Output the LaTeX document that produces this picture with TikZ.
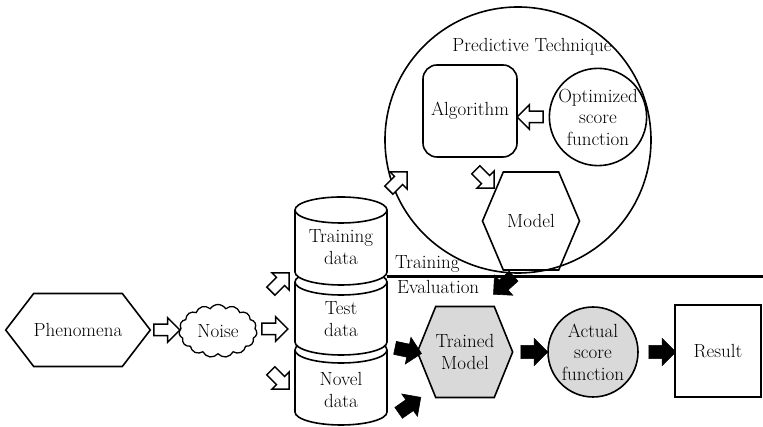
\documentclass[tikz,border=0pt]{standalone}
\usetikzlibrary{shapes.geometric,shapes.symbols,shapes.arrows}
\begin{document}
\begin{tikzpicture}[x=1pt,y=1pt,
  every node/.style={font=\fontsize{19}{21.5}\selectfont, align=center},
  outl/.style={draw, line width=1.6pt},
  openarr/.style={single arrow, draw, line width=1.5pt, fill=white, minimum height=26pt, inner xsep=0pt, inner ysep=5pt, single arrow head extend=6.5pt},
  blackarr/.style={single arrow, draw, fill=black, line width=0.6pt, minimum height=27pt, inner xsep=0pt, inner ysep=6.3pt, single arrow head extend=7pt},
  hexa/.style={signal, signal to=east and west, draw, line width=1.6pt, inner sep=0pt},
  lbl/.style={inner sep=0pt, anchor=base west},
]
\useasboundingbox (0,0) rectangle (763,427);

% big circle
\node[circle, outl, minimum size=266pt, inner sep=0pt] (pt) at (518,287) {};
\node (ptlabel) at (532,380) {Predictive Technique};
\node[rectangle, rounded corners=14pt, outl, minimum width=94pt, minimum height=92pt] (alg) at (470,316) {Algorithm};
\node[circle, outl, minimum size=95pt, inner sep=0pt] (opt) at (598,310) {Optimized\\score\\function};
\node[hexa, signal pointer angle=134, minimum width=97pt, minimum height=98pt] (model) at (531,206) {Model};

% cylinders
\newcommand{\cylbody}[2]{%
  \filldraw[fill=white, line width=1.6pt] (295,#1) -- (295,#2)
     arc[start angle=180,end angle=360,x radius=46,y radius=13] -- (387,#1)
     arc[start angle=0,end angle=180,x radius=46,y radius=13] -- cycle;
  \draw[line width=1.6pt] (295,#1) arc[start angle=180,end angle=360,x radius=46,y radius=13];}
\cylbody{77}{15}
\cylbody{145}{85}
\cylbody{217}{155}
\node (train) at (341,180) {Training\\data};
\node (test) at (341,108) {Test\\data};
\node (novel) at (341,37) {Novel\\data};

% training / evaluation line
\coordinate (trE) at (387,150);
\coordinate (lineend) at (763,150);
\draw[line width=3pt] (trE) -- (lineend);
\node[lbl] (ltrain) at (395,158) {Training};
\node[lbl] (leval) at (397,133) {Evaluation};

% left part
\node[hexa, signal pointer angle=105, minimum width=141pt, minimum height=73pt] (phen) at (78,97) {Phenomena};
\node[cloud, draw, line width=1.3pt, cloud puffs=15, cloud puff arc=115, cloud ignores aspect, minimum width=78pt, minimum height=53pt, inner sep=0pt] (noise) at (218,96) {Noise};

% evaluation part
\node[hexa, signal pointer angle=136, minimum width=95pt, minimum height=91pt, fill=gray!30] (tm) at (465,75) {Trained\\Model};
\node[circle, outl, fill=gray!30, minimum size=90pt, inner sep=0pt] (asf) at (593,75) {Actual\\score\\function};
\node[rectangle, outl, minimum width=86pt, minimum height=92pt] (res) at (718,76) {Result};

% open arrows
\node[openarr] (a1) at (164,97) {};
\node[openarr] (a2) at (272,98) {};
\node[openarr, rotate=45] (a3) at (278,143) {};
\node[openarr, rotate=-45] (a4) at (278,49) {};
\node[openarr, rotate=45] (a5) at (396,244) {};
\node[openarr, rotate=-45] (a6) at (483,250) {};
\node[openarr, rotate=180] (a7) at (533,310) {};

% black arrows
\node[blackarr, rotate=222] (b1) at (506,144) {};
\node[blackarr, rotate=-12] (b2) at (405,77) {};
\node[blackarr, rotate=35] (b3) at (407,20) {};
\node[blackarr] (b4) at (531,75) {};
\node[blackarr] (b5) at (659,75) {};
\end{tikzpicture}
\end{document}
